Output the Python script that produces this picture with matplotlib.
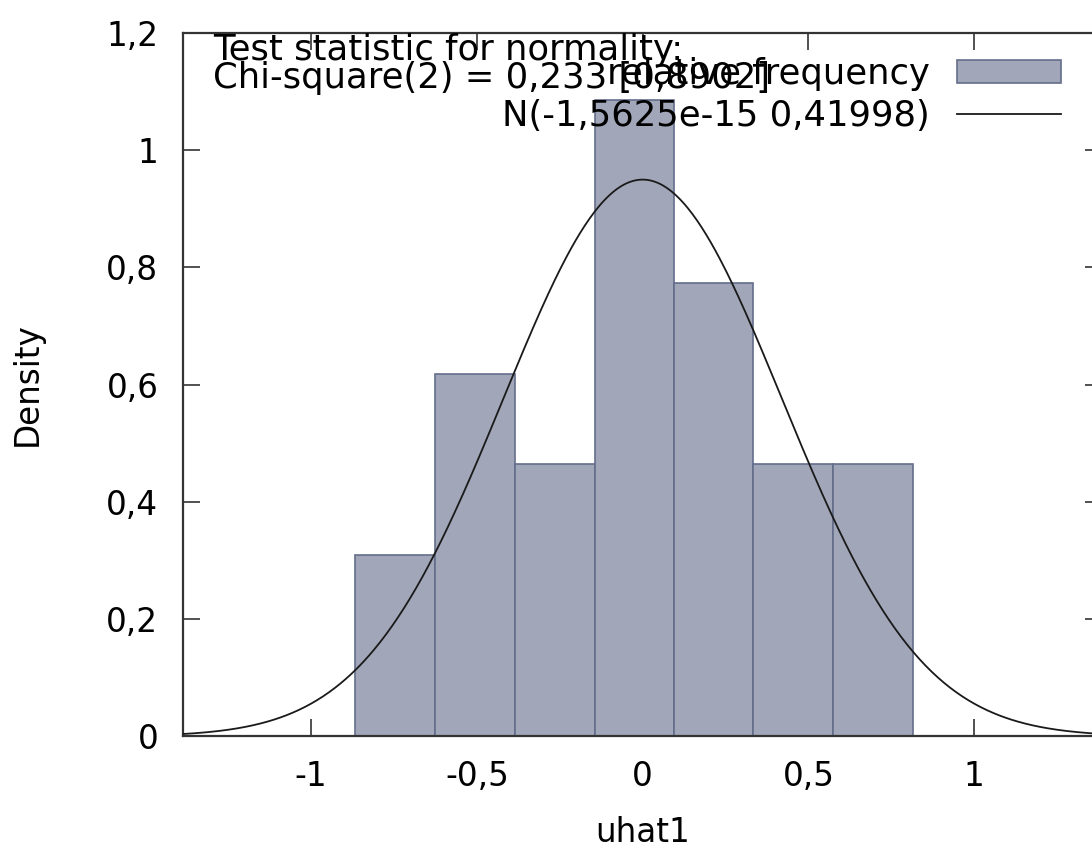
import numpy as np
import matplotlib
matplotlib.use('Agg')
import matplotlib.pyplot as plt
from matplotlib.ticker import FuncFormatter

# Histogram der Residuen uhat1
bin_edges = [-0.867, -0.626, -0.386, -0.145, 0.095, 0.334, 0.575, 0.814]
densities = [0.309, 0.619, 0.465, 1.085, 0.774, 0.465, 0.465]

# Normalverteilung N(mu, sigma)
mu = -1.5625e-15
sigma = 0.41998

x_ticks = [-1, -0.5, 0, 0.5, 1]
y_ticks = [0, 0.2, 0.4, 0.6, 0.8, 1.0, 1.2]

test_line1 = 'Test statistic for normality:'
test_line2 = 'Chi-square(2) = 0,233 [0,8902]'
label_hist = 'relative frequency'
label_norm = 'N(-1,5625e-15 0,41998)'

W, H = 1092, 849
fig = plt.figure(figsize=(W / 100, H / 100), dpi=100)
ax = fig.add_axes([183.3 / W, (H - 736.4) / H, (1102 - 183.3) / W, (736.4 - 33) / H])

widths = np.diff(bin_edges)
bars = ax.bar(bin_edges[:-1], densities, width=widths, align='edge',
              color='#a1a7b8', edgecolor='#646e8b', linewidth=1.2, label=label_hist, zorder=2)

xmin, xmax = -1.385, 1.385
xs = np.linspace(xmin, xmax, 600)
ys = np.exp(-0.5 * ((xs - mu) / sigma) ** 2) / (sigma * np.sqrt(2 * np.pi))
line, = ax.plot(xs, ys, color='#1a1a1a', linewidth=1.3, label=label_norm, zorder=3)

ax.set_xlim(xmin, xmax)
ax.set_ylim(0, 1.2)
ax.set_xticks(x_ticks)
ax.set_yticks(y_ticks)
fmt = FuncFormatter(lambda v, p: ('%g' % v).replace('.', ','))
ax.xaxis.set_major_formatter(fmt)
ax.yaxis.set_major_formatter(fmt)

ax.tick_params(direction='in', length=12, width=1.1, color='#222222',
               top=True, right=True, labelsize=23.5, pad=17)
ax.tick_params(axis='y', pad=18)
for s in ax.spines.values():
    s.set_linewidth(1.6)
    s.set_color('#333333')

fig.text(27.5 / W, (H - 384) / H, 'Density', rotation=90, ha='center', va='center', fontsize=23.5)
fig.text(642.5 / W, (H - 833) / H, 'uhat1', ha='center', va='center', fontsize=23.5)

fig.text(213 / W, (H - 60) / H, test_line1, ha='left', va='baseline', fontsize=25.5, zorder=5)
fig.text(213 / W, (H - 88) / H, test_line2, ha='left', va='baseline', fontsize=25.5, zorder=5)

leg = ax.legend([bars, line], [label_hist, label_norm],
                loc='upper right', bbox_to_anchor=(1061 / W, (H - 57) / H),
                bbox_transform=fig.transFigure, frameon=False, markerfirst=False,
                fontsize=25.5, borderpad=0, borderaxespad=0, handlelength=2.94,
                handleheight=0.59, handletextpad=0.76, labelspacing=0.23)
leg.set_zorder(5)

fig.savefig('out.png', dpi=100)
